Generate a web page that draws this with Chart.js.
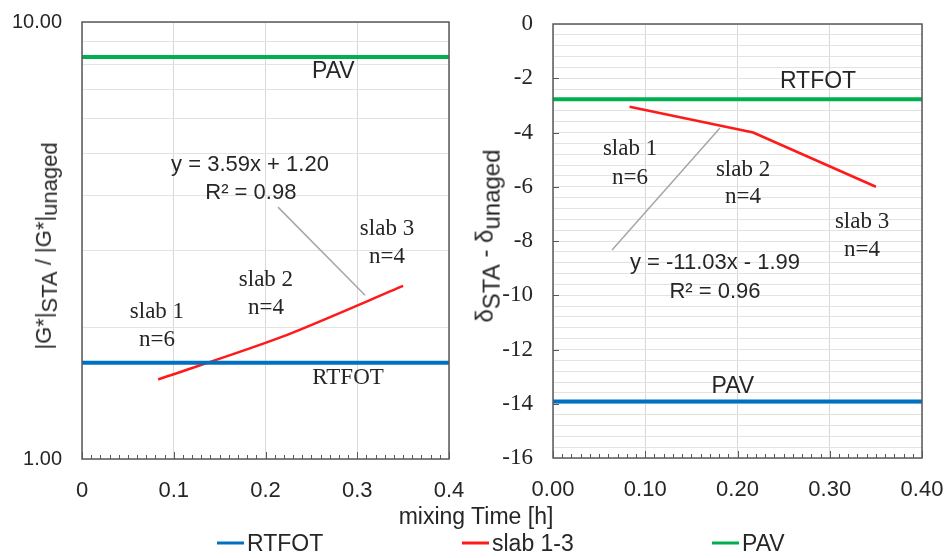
<!DOCTYPE html>
<html>
<head>
<meta charset="utf-8">
<script src="https://cdn.jsdelivr.net/npm/chart.js@4.4.0/dist/chart.umd.min.js"></script>
<style>
  body { margin: 0; background: #fff; width: 950px; height: 558px; position: relative; overflow: hidden;
         font-family: "Liberation Sans", Arial, sans-serif; color: #262626; }
  canvas { position: absolute; top: 0; }
  #left { left: 0; }
  #right { left: 470px; }
  .ytitle { position: absolute; white-space: nowrap; line-height: 1;
            transform: translate(-50%, -50%) rotate(-90deg); }
  .ytitle sub { font-size: 1em; vertical-align: -0.28em; }
  #xtitle { position: absolute; left: 476px; top: 516px; font-size: 23px; transform: translate(-50%, -50%); white-space: nowrap; }
  .leg { position: absolute; top: 543px; font-size: 23px; transform: translateY(-50%); white-space: nowrap; display: flex; align-items: center; }
  .leg i { display: inline-block; width: 27px; height: 3px; margin-right: 3px; }
</style>
</head>
<body>
<canvas id="left" width="470" height="558"></canvas>
<canvas id="right" width="480" height="558"></canvas>
<div class="ytitle" style="left:47px; top:246px; font-size:22px">|G*|<sub>STA</sub> / |G*|<sub>unaged</sub></div>
<div class="ytitle" style="left:488px; top:236px; font-size:24px">δ<sub>STA</sub> - δ<sub>unaged</sub></div>
<div id="xtitle">mixing Time [h]</div>
<div class="leg" style="left:217px"><i style="background:#0070c0"></i>RTFOT</div>
<div class="leg" style="left:462px"><i style="background:#ff1a1a"></i>slab 1-3</div>
<div class="leg" style="left:712px"><i style="background:#00b050"></i>PAV</div>
<script>
// Daten
const mixTime = [0.083, 0.217, 0.35];
const refTime = [0, 0.4];
const ratioSlab = [1.52, 1.90, 2.49];
const ratioRtfot = [1.66, 1.66];
const ratioPav = [8.32, 8.32];
const phaseSlab = [-3.05, -4.0, -6.0];
const phaseRtfot = [-2.77, -2.77];
const phasePav = [-13.92, -13.92];
const xLabelsLeft = ['0', '0.1', '0.2', '0.3', '0.4'];
const xLabelsRight = ['0.00', '0.10', '0.20', '0.30', '0.40'];
const yLabelsLeft = ['1.00', '10.00'];
const yLabelsRight = ['-16', '-14', '-12', '-10', '-8', '-6', '-4', '-2', '0'];

const BLUE = '#0070c0', RED = '#ff1a1a', GREEN = '#00b050';
const TXT = '#262626', AXIS = '#595959';
const SANS = '"Liberation Sans", Arial, sans-serif';
const SERIF = '"Liberation Serif", "Times New Roman", serif';

const pts = (xs, ys) => xs.map((x, i) => ({x: x, y: ys[i]}));

// Rahmen, Beschriftungen und kleine Striche
const decor = {
    id: 'decor',
    afterDatasetsDraw(chart, args, o) {
        const ctx = chart.ctx, a = chart.chartArea;
        const x = chart.scales.x, y = chart.scales.y;
        ctx.save();
        // Hinweislinie
        const l = o.leader;
        ctx.strokeStyle = '#a6a6a6';
        ctx.lineWidth = 1.5;
        ctx.beginPath();
        ctx.moveTo(x.getPixelForValue(l[0]), y.getPixelForValue(l[1]));
        ctx.lineTo(x.getPixelForValue(l[2]), y.getPixelForValue(l[3]));
        ctx.stroke();
        // Texte
        ctx.fillStyle = TXT;
        ctx.textAlign = 'center';
        ctx.textBaseline = 'middle';
        o.notes.forEach(n => {
            ctx.font = n.font;
            ctx.fillText(n.text, x.getPixelForValue(n.x), y.getPixelForValue(n.y));
        });
        // Striche an der x-Achse (nach innen)
        ctx.strokeStyle = AXIS;
        ctx.lineWidth = 1;
        ctx.beginPath();
        for (let i = 0; i <= 40; i++) {
            const px = Math.round(x.getPixelForValue(i / 100)) + 0.5;
            ctx.moveTo(px, a.bottom);
            ctx.lineTo(px, a.bottom - (i % 10 === 0 ? 7 : 4));
        }
        (o.yMarks || []).forEach(v => {
            const py = Math.round(y.getPixelForValue(v)) + 0.5;
            ctx.moveTo(a.left, py);
            ctx.lineTo(a.left + 6, py);
        });
        ctx.stroke();
        ctx.lineWidth = 1.5;
        ctx.strokeRect(a.left, a.top, a.width, a.height);
        ctx.restore();
    }
};

// Abstand der Beschriftung über unsichtbare Tick-Länge, damit das Layout nicht schrumpft
function baseX(labels) {
    return {
        type: 'linear', min: 0, max: 0.4,
        afterFit: s => { s.height = 40; },
        border: {display: false},
        grid: {color: '#d9d9d9', drawTicks: true, tickLength: 19, tickColor: 'rgba(0,0,0,0)'},
        ticks: {
            stepSize: 0.1, padding: 0, color: TXT,
            font: {family: SANS, size: 22},
            callback: v => labels[Math.round(v * 10)]
        }
    };
}

// linkes Diagramm: |G*| Verhältnis (log)
new Chart(document.getElementById('left'), {
    type: 'line',
    data: {
        datasets: [
            {label: 'RTFOT', data: pts(refTime, ratioRtfot), borderColor: BLUE, borderWidth: 4},
            {label: 'slab 1-3', data: pts(mixTime, ratioSlab), borderColor: RED, borderWidth: 2.5, tension: 0.25},
            {label: 'PAV', data: pts(refTime, ratioPav), borderColor: GREEN, borderWidth: 4}
        ]
    },
    options: {
        responsive: false,
        animation: false,
        layout: {padding: {top: 22, right: 21, bottom: 59, left: 0}},
        elements: {point: {radius: 0}},
        plugins: {
            legend: {display: false},
            tooltip: {enabled: false},
            decor: {
                leader: [0.2136, 3.77, 0.3085, 2.37],
                notes: [
                    {text: 'PAV', x: 0.274, y: 7.68, font: '23px ' + SANS},
                    {text: 'y = 3.59x + 1.20', x: 0.1831, y: 4.71, font: '22px ' + SANS},
                    {text: 'R² = 0.98', x: 0.184, y: 4.06, font: '22px ' + SANS},
                    {text: 'slab 1', x: 0.0817, y: 2.17, font: '23px ' + SERIF},
                    {text: 'n=6', x: 0.0817, y: 1.87, font: '23px ' + SERIF},
                    {text: 'slab 2', x: 0.2005, y: 2.57, font: '23px ' + SERIF},
                    {text: 'n=4', x: 0.2005, y: 2.22, font: '23px ' + SERIF},
                    {text: 'slab 3', x: 0.3324, y: 3.36, font: '23px ' + SERIF},
                    {text: 'n=4', x: 0.3324, y: 2.90, font: '23px ' + SERIF},
                    {text: 'RTFOT', x: 0.290, y: 1.53, font: '23px ' + SERIF}
                ]
            }
        },
        scales: {
            x: baseX(xLabelsLeft),
            y: {
                type: 'logarithmic', min: 1, max: 10,
                afterFit: s => { s.width = 82; },
                afterBuildTicks: s => { s.ticks = [1, 2, 3, 4, 5, 6, 7, 8, 9, 10].map(v => ({value: v})); },
                border: {display: false},
                grid: {color: '#e3e3e3', drawTicks: true, tickLength: 20, tickColor: 'rgba(0,0,0,0)'},
                ticks: {
                    autoSkip: false, padding: 0, color: TXT,
                    font: {family: SANS, size: 20},
                    callback: v => v === 1 ? yLabelsLeft[0] : (v === 10 ? yLabelsLeft[1] : '')
                }
            }
        }
    },
    plugins: [decor]
});

// rechtes Diagramm: Phasenwinkel
new Chart(document.getElementById('right'), {
    type: 'line',
    data: {
        datasets: [
            {label: 'RTFOT', data: pts(refTime, phaseRtfot), borderColor: GREEN, borderWidth: 4},
            {label: 'slab 1-3', data: pts(mixTime, phaseSlab), borderColor: RED, borderWidth: 2.5},
            {label: 'PAV', data: pts(refTime, phasePav), borderColor: BLUE, borderWidth: 4}
        ]
    },
    options: {
        responsive: false,
        animation: false,
        layout: {padding: {top: 24, right: 28, bottom: 60, left: 0}},
        elements: {point: {radius: 0}},
        plugins: {
            legend: {display: false},
            tooltip: {enabled: false},
            decor: {
                leader: [0.181, -3.83, 0.064, -8.33],
                yMarks: [-2, -4, -6, -8, -10, -12, -14],
                notes: [
                    {text: 'RTFOT', x: 0.2873, y: -2.14, font: '23px ' + SANS},
                    {text: 'slab 1', x: 0.0835, y: -4.61, font: '23px ' + SERIF},
                    {text: 'n=6', x: 0.0835, y: -5.68, font: '23px ' + SERIF},
                    {text: 'slab 2', x: 0.206, y: -5.38, font: '23px ' + SERIF},
                    {text: 'n=4', x: 0.206, y: -6.38, font: '23px ' + SERIF},
                    {text: 'slab 3', x: 0.335, y: -7.30, font: '23px ' + SERIF},
                    {text: 'n=4', x: 0.335, y: -8.33, font: '23px ' + SERIF},
                    {text: 'y = -11.03x - 1.99', x: 0.1756, y: -8.81, font: '22px ' + SANS},
                    {text: 'R² = 0.96', x: 0.1756, y: -9.88, font: '22px ' + SANS},
                    {text: 'PAV', x: 0.195, y: -13.38, font: '23px ' + SANS}
                ]
            }
        },
        scales: {
            x: baseX(xLabelsRight),
            y: {
                type: 'linear', min: -16, max: 0,
                afterFit: s => { s.width = 83; },
                afterBuildTicks: s => {
                    const t = [];
                    for (let k = 0; k <= 40; k++) t.push({value: -16 + k * 0.4});
                    s.ticks = t;
                },
                border: {display: false},
                grid: {color: '#e3e3e3', drawTicks: true, tickLength: 20, tickColor: 'rgba(0,0,0,0)'},
                ticks: {
                    autoSkip: false, padding: 0, color: TXT,
                    font: {family: SERIF, size: 23},
                    callback: v => Math.abs(v / 2 - Math.round(v / 2)) < 1e-6 ? yLabelsRight[Math.round((v + 16) / 2)] : ''
                }
            }
        }
    },
    plugins: [decor]
});
</script>
</body>
</html>
